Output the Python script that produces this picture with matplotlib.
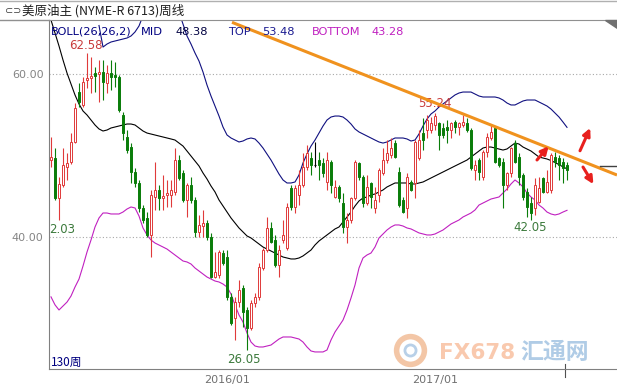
import numpy as np
import matplotlib.pyplot as plt
from matplotlib.patches import Rectangle, Polygon
from matplotlib.lines import Line2D

# weekly candles, 130 weeks (index 0 .. 129)
opens = [49.5, 49.67, 44.79, 46.39, 48.57, 49.26, 51.71, 57.86, 56.23, 59.30,
         59.51, 60.12, 60.0, 60.32, 58.97, 60.12, 59.91, 59.70, 55.0, 52.33,
         51.1, 48.03, 46.64, 43.56, 42.34, 40.25, 44.95, 45.78, 44.83, 45.16,
         45.16, 45.57, 49.46, 47.83, 44.55, 46.39, 44.55, 40.65, 41.41, 41.72,
         40.04, 35.12, 35.33, 38.03, 37.58, 32.66, 30.0, 32.05, 33.72, 31.03,
         28.78, 31.89, 32.66, 36.14, 38.40, 41.11, 39.63, 36.56, 39.63, 38.61,
         45.99, 43.72, 45.16, 46.39, 48.64, 49.67, 48.85, 49.46, 49.06, 46.80,
         49.26, 44.95, 46.18, 44.14, 41.27, 42.09, 44.76, 49.06, 47.41, 44.14,
         46.64, 43.53, 45.16, 47.83, 49.46, 50.08, 51.52, 48.03, 44.55, 43.53,
         46.80, 46.60, 49.67, 52.75, 53.15, 53.15, 53.77, 53.98, 53.36, 53.56,
         53.15, 54.17, 53.56, 53.77, 53.98, 53.15, 48.24, 49.46, 47.41, 50.49,
         52.13, 53.36, 49.67, 49.26, 46.39, 47.83, 51.52, 49.87, 47.62, 45.57,
         44.14, 43.53, 44.34, 47.22, 45.57, 45.78, 49.87, 49.67, 49.26, 48.85]
highs = [52.3, 50.94, 47.37, 51.0, 50.33, 52.75, 56.43, 58.89, 59.70, 62.58,
         62.16, 60.93, 61.76, 61.76, 61.14, 61.76, 61.55, 59.91, 55.40, 53.15,
         51.52, 48.44, 47.01, 43.93, 43.11, 45.78, 49.26, 46.39, 47.62, 47.01,
         47.01, 50.90, 50.08, 48.24, 46.60, 47.41, 44.95, 42.70, 43.32, 42.09,
         40.45, 38.19, 38.40, 38.40, 38.40, 33.08, 32.66, 34.71, 34.10, 31.43,
         32.25, 33.08, 36.77, 38.61, 42.50, 41.88, 40.25, 39.02, 42.09, 44.14,
         46.39, 46.39, 48.24, 50.29, 51.31, 50.49, 51.71, 50.49, 49.67, 50.49,
         49.46, 47.01, 46.39, 45.37, 42.91, 44.95, 49.46, 49.26, 47.62, 47.62,
         46.80, 46.18, 48.44, 50.90, 51.92, 52.13, 51.92, 48.64, 44.95, 47.83,
         47.01, 51.92, 53.15, 54.59, 55.0, 54.8, 55.24, 54.17, 53.98, 54.38,
         54.17, 54.38, 54.17, 55.0, 54.59, 53.36, 49.46, 49.67, 50.69, 52.75,
         53.77, 53.56, 49.87, 49.67, 48.03, 51.10, 51.92, 50.29, 47.83, 45.99,
         44.95, 47.22, 47.41, 47.41, 48.24, 50.29, 50.49, 50.08, 49.67, 49.26]
lows = [48.6, 44.6, 42.03, 46.2, 47.0, 49.0, 51.55, 56.0, 56.0, 58.28,
        57.66, 57.86, 56.63, 56.84, 57.66, 58.07, 58.48, 55.40, 51.92, 50.29,
        46.60, 46.18, 43.11, 41.68, 40.04, 37.58, 43.32, 43.32, 43.32, 43.72,
        43.72, 45.16, 47.01, 44.34, 42.50, 44.14, 40.04, 40.04, 40.04, 39.63,
        34.92, 35.0, 35.0, 36.56, 32.25, 29.18, 27.34, 31.43, 28.96, 26.05,
        28.56, 31.43, 32.25, 35.94, 38.19, 39.22, 36.35, 35.12, 39.22, 38.40,
        43.32, 42.95, 43.93, 46.18, 48.24, 47.62, 48.6, 47.01, 47.41, 45.78,
        45.37, 44.76, 44.34, 40.45, 39.22, 41.68, 44.55, 47.01, 43.72, 43.93,
        43.53, 42.91, 44.34, 47.62, 49.06, 49.67, 49.67, 43.72, 42.91, 42.34,
        45.6, 44.76, 49.46, 50.69, 52.13, 52.75, 53.2, 50.69, 52.13, 51.52,
        52.13, 52.75, 52.54, 53.56, 52.95, 48.24, 47.01, 47.01, 47.01, 49.87,
        51.92, 49.06, 48.64, 43.53, 45.78, 47.41, 49.06, 46.39, 44.55, 42.50,
        42.05, 42.70, 44.14, 45.37, 45.37, 45.37, 48.64, 47.01, 46.60, 47.01]
closes = [49.8, 44.76, 46.51, 48.85, 49.13, 51.71, 55.86, 56.63, 59.09, 59.55,
          59.79, 59.79, 60.32, 59.09, 60.12, 59.70, 59.63, 55.61, 52.75, 50.69,
          48.03, 46.60, 43.56, 42.09, 40.25, 45.16, 45.78, 44.79, 45.08, 45.41,
          45.78, 49.46, 47.22, 44.55, 46.39, 44.55, 40.65, 41.48, 41.66, 40.04,
          35.12, 35.73, 38.19, 36.80, 32.66, 29.39, 32.05, 33.48, 30.82, 28.78,
          31.89, 32.66, 36.34, 38.40, 41.11, 39.42, 36.56, 38.40, 40.25, 43.72,
          43.72, 45.99, 46.39, 48.64, 50.29, 48.85, 48.85, 48.85, 47.83, 49.46,
          46.39, 46.18, 44.76, 41.27, 42.09, 44.76, 49.26, 47.41, 44.14, 46.18,
          44.95, 44.55, 48.24, 49.46, 50.29, 50.90, 49.87, 43.93, 43.11, 47.41,
          45.78, 51.71, 51.92, 51.92, 54.38, 53.98, 54.9, 52.54, 52.54, 53.15,
          53.98, 53.56, 53.98, 54.17, 53.15, 48.44, 48.85, 48.03, 50.49, 52.33,
          52.95, 49.26, 48.85, 46.39, 47.83, 50.90, 49.26, 47.41, 44.95, 43.72,
          42.91, 46.39, 45.99, 45.57, 46.80, 50.08, 49.26, 48.85, 48.44, 48.24]

# BOLL(26,26,2) lines (None = outside the visible area)
boll_mid = [66.67, 65.08, 63.48, 61.76, 60.16, 58.81, 57.46, 56.35, 55.49, 55.0,
            54.38, 53.77, 53.28, 53.03, 53.15, 53.40, 53.52, 53.64, 53.77, 53.89,
            53.89, 53.77, 53.40, 53.03, 52.78, 52.66, 52.54, 52.42, 52.29, 52.17,
            52.05, 51.92, 51.55, 51.18, 50.57, 49.96, 49.34, 48.73, 47.87, 47.13,
            46.27, 45.54, 44.55, 43.81, 43.07, 42.34, 41.72, 41.11, 40.62, 40.13,
            39.88, 39.51, 39.14, 38.77, 38.52, 38.28, 38.03, 37.79, 37.54, 37.42,
            37.30, 37.30, 37.42, 37.67, 38.03, 38.40, 39.02, 39.51, 39.88, 40.25,
            40.62, 40.99, 41.23, 41.85, 42.46, 43.07, 43.81, 44.43, 44.79, 44.92,
            45.16, 45.29, 45.53, 45.78, 46.15, 46.39, 46.64, 46.64, 46.64, 46.64,
            46.52, 46.52, 46.64, 46.76, 47.01, 47.25, 47.50, 47.74, 47.99, 48.24,
            48.48, 48.73, 48.97, 49.22, 49.46, 49.83, 50.20, 50.57, 50.94, 51.06,
            51.06, 50.94, 50.82, 50.69, 50.82, 51.18, 51.55, 51.43, 51.06, 50.82,
            50.57, 50.20, 49.83, 49.71, 49.59, 49.40, 49.15, 48.90, 48.62, 48.38]
boll_top = [None] * 12 + [
            66.0, 63.35, 63.72, 63.97, 64.09, 64.21, 64.34, 64.46, 64.71, 65.20,
            65.94, 67.2] + [None] * 8 + [
            67.6, 66.18, 64.71, 63.72, 62.62, 61.63, 60.28, 58.68, 57.33, 56.10,
            54.87, 53.52, 52.54, 52.17, 51.92, 51.68, 51.80, 52.05, 52.17, 52.05,
            51.55, 50.94, 50.20, 49.46, 48.60, 47.74, 47.01, 46.64, 46.64, 46.76,
            47.62, 49.10, 50.20, 51.18, 51.92, 52.78, 53.64, 54.38, 54.75, 54.87,
            54.87, 54.75, 54.38, 53.89, 53.28, 52.91, 52.66, 52.42, 52.17, 51.92,
            51.68, 51.55, 51.68, 51.92, 52.17, 52.17, 52.17, 52.05, 51.80, 51.92,
            52.66, 53.64, 54.50, 55.12, 55.49, 55.98, 56.35, 56.72, 57.09, 57.46,
            57.70, 57.82, 57.82, 57.82, 57.58, 57.33, 57.21, 57.21, 57.21, 57.21,
            57.09, 56.84, 56.47, 56.23, 56.23, 56.47, 56.72, 56.84, 56.84, 56.84,
            56.60, 56.35, 56.10, 55.73, 55.24, 54.75, 54.13, 53.48]
boll_bottom = [32.64, 31.66, 31.03, 31.52, 32.0, 32.74, 33.85, 34.83, 36.43, 38.15,
               39.63, 41.23, 42.34, 42.95, 42.95, 42.83, 42.83, 42.83, 43.07, 43.44,
               43.69, 43.57, 42.58, 41.11, 40.25, 39.63, 39.26, 39.02, 38.77, 38.52,
               38.15, 37.79, 37.42, 37.05, 36.93, 36.68, 36.19, 35.82, 35.45, 35.08,
               34.84, 34.59, 34.47, 34.22, 33.85, 32.99, 31.64, 30.41, 29.55, 28.20,
               27.09, 26.60, 26.48, 26.48, 26.60, 26.72, 27.09, 27.46, 27.71, 27.71,
               27.71, 27.59, 27.46, 27.09, 26.48, 25.99, 25.87, 25.87, 25.87, 26.11,
               27.34, 28.32, 29.06, 29.79, 31.02, 32.50, 34.10, 36.19, 37.42, 37.79,
               38.03, 38.77, 39.88, 40.37, 40.86, 41.23, 41.48, 41.48, 41.35, 41.11,
               40.99, 40.74, 40.50, 40.37, 40.25, 40.25, 40.37, 40.62, 40.86, 41.23,
               41.60, 41.85, 42.09, 42.46, 42.71, 42.95, 43.32, 43.93, 44.18, 44.43,
               44.67, 44.79, 44.92, 45.41, 45.90, 46.52, 47.01, 46.64, 46.15, 45.41,
               44.92, 44.55, 43.93, 43.56, 43.07, 42.83, 42.71, 42.83, 43.07, 43.28]

# hand drawn resistance line (week index, price)
trend_x = [45.25, 141.5]
trend_y = [66.39, 47.62]

tick_weeks = [44, 96]
tick_labels = ["2016/01", "2017/01"]

RED = '#e03a3a'
GREEN = '#0a7d0a'
CJK = ['Noto Sans CJK SC', 'DejaVu Sans']

fig = plt.figure(figsize=(6.17, 3.87), dpi=100)
ax = fig.add_axes([49 / 617, 18 / 387, 568 / 617, 349 / 387])
ax.set_xlim(-0.5, 141.5)
ax.set_ylim(23.774, 66.675)

n = len(closes)
idx = np.arange(n)


def band(vals):
    return np.array([np.nan if v is None else v for v in vals], dtype=float)


ax.plot(idx, band(boll_mid), color='black', lw=0.8, zorder=2)
ax.plot(idx, band(boll_top), color='#101080', lw=0.8, zorder=2)
ax.plot(idx, band(boll_bottom), color='#c020c0', lw=0.8, zorder=2)

# candles
w = 0.55
for i in range(n):
    o, h, l, c = opens[i], highs[i], lows[i], closes[i]
    if c > o:
        col = RED
    elif c < o:
        col = GREEN
    else:
        col = 'black'
    ax.vlines(i, l, h, color=col, lw=0.8, zorder=3)
    if col == 'black':
        ax.hlines(o, i - w / 2, i + w / 2, color=col, lw=0.8, zorder=4)
        continue
    lo = min(o, c)
    hgt = max(abs(c - o), 0.12)
    fc = 'white' if col == RED else GREEN
    ax.add_patch(Rectangle((i - w / 2, lo), w, hgt, facecolor=fc,
                           edgecolor=col, lw=0.7, zorder=4))

# trend line and marks
ax.plot(trend_x, trend_y, color='#f0921e', lw=2.2, zorder=5, solid_capstyle='butt')
ax.plot([137.25, 141.5], [48.72, 48.72], color='#404040', lw=1.0, zorder=5)

arrows = [((121.5, 49.47), (124.4, 51.15)),
          ((132.25, 50.6), (134.8, 53.4)),
          ((133.0, 48.6), (135.6, 46.5))]
for start, end in arrows:
    ax.annotate('', xy=end, xytext=start,
                arrowprops=dict(arrowstyle='-|>', color='#e8201e', lw=2.2,
                                mutation_scale=11, shrinkA=0, shrinkB=0),
                zorder=6)

# value labels
ax.text(8.75, 63.6, "62.58", color='#c83c3c', fontsize=8.5, ha='center', va='center')
ax.text(96, 56.47, "55.24", color='#c83c3c', fontsize=8.5, ha='center', va='center')
ax.text(48.25, 24.9, "26.05", color='#3c7a3c', fontsize=8.5, ha='center', va='center')
ax.text(119.75, 41.13, "42.05", color='#3c7a3c', fontsize=8.5, ha='center', va='center')
ax.text(-0.45, 40.9, "2.03", color='#3c7a3c', fontsize=8.5, ha='left', va='center')
ax.text(-0.1, 24.6, "130周", color='#000080', fontsize=8.5, ha='left', va='center',
        family=CJK)

# legend line
leg_y = 65.2
for x, s, col in [(0.0, "BOLL(26,26,2)", '#000080'), (22.5, "MID", '#000080'),
                  (31.0, "48.38", '#000040'), (44.2, "TOP", '#1a1a90'),
                  (52.8, "53.48", '#1a1a90'), (65.2, "BOTTOM", '#c020c0'),
                  (80.2, "43.28", '#c020c0')]:
    ax.text(x, leg_y, s, color=col, fontsize=8.2, ha='left', va='center', zorder=7)

# grid at 40 / 60
for v in [40, 60]:
    ax.axhline(v, color='#a8a8a8', lw=0.8, ls=(0, (1, 2)), zorder=1)

ax.set_yticks([40, 60])
ax.set_yticklabels(["40.00", "60.00"])
ax.set_xticks(tick_weeks)
ax.set_xticklabels(tick_labels)
ax.tick_params(axis='y', length=0, pad=4, labelsize=8, labelcolor='#858585')
ax.tick_params(axis='x', length=0, pad=4, labelsize=8, labelcolor='#707070')
ax.spines['right'].set_visible(False)
ax.spines['left'].set_color('#808080')
ax.spines['bottom'].set_color('#808080')
ax.spines['top'].set_color('#909090')
ax.plot([128.5, 128.5], [24.4, 22.8], color='#505050', lw=0.8, clip_on=False)

# watermark
ax.plot([89.75], [26.1], marker='o', markersize=20, markerfacecolor='none',
        markeredgecolor='#f3c6a6', markeredgewidth=4, zorder=1)
ax.plot([89.75], [26.1], marker='o', markersize=8, markerfacecolor='none',
        markeredgecolor='#b8d0e8', markeredgewidth=2, zorder=1)
fig.text(0.712, 0.088, "FX678", color='#f8c0a0', fontsize=15.5, fontweight='bold',
         ha='left', va='center', alpha=0.85)
fig.text(0.843, 0.088, "汇通网", color='#b0cce6', fontsize=16.5, fontweight='bold',
         ha='left', va='center', family=CJK)

# title bar
fig.add_artist(Line2D([0, 49 / 617], [1 - 20 / 387, 1 - 20 / 387], color='#909090', lw=1))
fig.add_artist(Line2D([0, 1], [0.998, 0.998], color='#b0b0b0', lw=1))
fig.text(0.008, 0.972, "⊂⊃", color='#404040', fontsize=7, ha='left', va='center')
fig.text(0.036, 0.972, "美原油主 (NYME-R 6713)周线", color='#202020', fontsize=9,
         ha='left', va='center', family=CJK)
fig.add_artist(Polygon([[605 / 617, 1 - 20 / 387], [1, 1 - 20 / 387], [1, 1 - 28 / 387]],
                       closed=True, color='#707070'))

fig.savefig('out.png', dpi=100)
